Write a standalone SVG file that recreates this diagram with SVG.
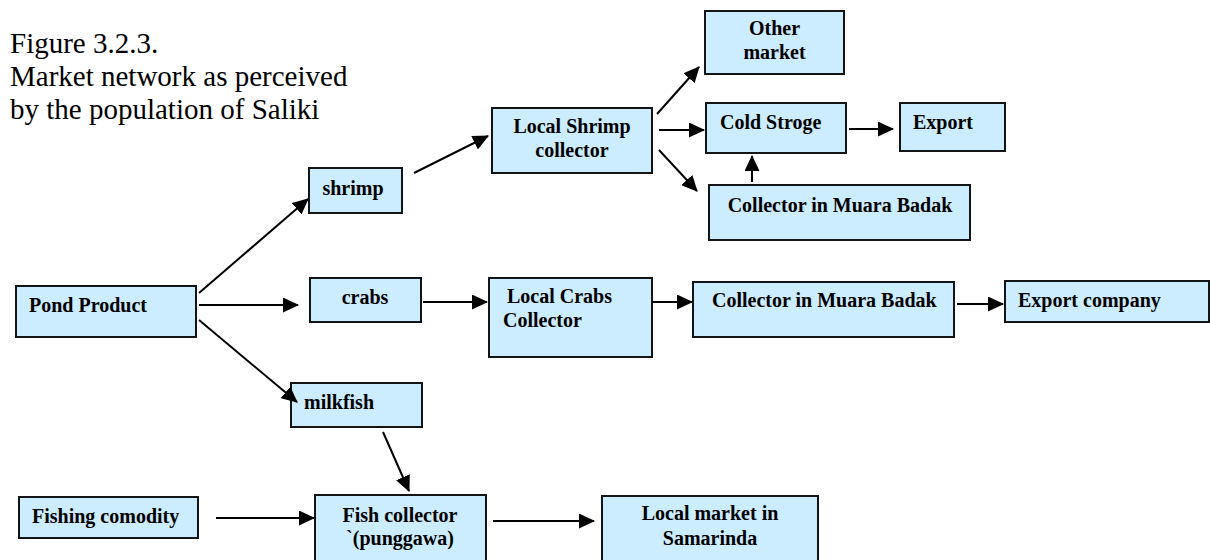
<svg xmlns="http://www.w3.org/2000/svg" width="1210" height="560" viewBox="0 0 1210 560">
  <style>
    .box { fill: #CCECFF; stroke: #141414; stroke-width: 2; }
    .lbl { font-family: "Liberation Serif", "Times New Roman", serif; font-size: 20px; font-weight: bold; fill: #000; }
    .mid { text-anchor: middle; }
    .title { font-family: "Liberation Serif", "Times New Roman", serif; font-size: 29px; fill: #000; }
    .edge { stroke: #000; stroke-width: 2; fill: none; marker-end: url(#arrow); }
  </style>
  <defs>
    <marker id="arrow" markerUnits="userSpaceOnUse" markerWidth="16" markerHeight="15" refX="15" refY="7.5" orient="auto">
      <path d="M0,0 L16,7.5 L0,15 Z" fill="#000"/>
    </marker>
  </defs>
  <rect width="1210" height="560" fill="#fff"/>

  <!-- caption -->
  <g id="caption" class="title">
    <text x="10" y="53">Figure 3.2.3.</text>
    <text x="10" y="86">Market network as perceived</text>
    <text x="10" y="119">by the population of Saliki</text>
  </g>

  <!-- nodes -->
  <g id="pond-product">
    <rect class="box" x="16" y="286" width="180" height="51"/>
    <text class="lbl" x="29" y="312">Pond Product</text>
  </g>
  <g id="shrimp">
    <rect class="box" x="309" y="168" width="93" height="45"/>
    <text class="lbl mid" x="353" y="195">shrimp</text>
  </g>
  <g id="crabs">
    <rect class="box" x="310" y="278" width="111" height="44"/>
    <text class="lbl mid" x="365" y="304">crabs</text>
  </g>
  <g id="milkfish">
    <rect class="box" x="291" y="383" width="131" height="44"/>
    <text class="lbl" x="304" y="409">milkfish</text>
  </g>
  <g id="local-shrimp-collector">
    <rect class="box" x="492" y="108" width="160" height="65"/>
    <text class="lbl mid" x="572" y="133">Local Shrimp</text>
    <text class="lbl mid" x="572" y="157">collector</text>
  </g>
  <g id="other-market">
    <rect class="box" x="705" y="11" width="139" height="63"/>
    <text class="lbl mid" x="774.5" y="35">Other</text>
    <text class="lbl mid" x="774.5" y="59">market</text>
  </g>
  <g id="cold-storage">
    <rect class="box" x="706" y="103" width="140" height="50"/>
    <text class="lbl" x="720" y="129">Cold Stroge</text>
  </g>
  <g id="export">
    <rect class="box" x="900" y="103" width="105" height="48"/>
    <text class="lbl" x="913" y="129">Export</text>
  </g>
  <g id="collector-muara-badak-shrimp">
    <rect class="box" x="709" y="185" width="261" height="55"/>
    <text class="lbl mid" x="840" y="212">Collector in Muara Badak</text>
  </g>
  <g id="local-crabs-collector">
    <rect class="box" x="489" y="278" width="163" height="79"/>
    <text class="lbl" x="507" y="303">Local Crabs</text>
    <text class="lbl" x="503" y="327">Collector</text>
  </g>
  <g id="collector-muara-badak-crabs">
    <rect class="box" x="693" y="282" width="261" height="55"/>
    <text class="lbl" x="712" y="307">Collector in Muara Badak</text>
  </g>
  <g id="export-company">
    <rect class="box" x="1005" y="281" width="204" height="41"/>
    <text class="lbl" x="1018" y="307">Export company</text>
  </g>
  <g id="fishing-comodity">
    <rect class="box" x="19" y="497" width="179" height="41"/>
    <text class="lbl" x="32" y="523">Fishing comodity</text>
  </g>
  <g id="fish-collector">
    <rect class="box" x="315" y="495" width="171" height="80"/>
    <text class="lbl mid" x="400" y="522">Fish collector</text>
    <text class="lbl mid" x="400" y="545">`(punggawa)</text>
  </g>
  <g id="local-market-samarinda">
    <rect class="box" x="602" y="496" width="216" height="80"/>
    <text class="lbl mid" x="710" y="520">Local market in</text>
    <text class="lbl mid" x="710" y="545">Samarinda</text>
  </g>

  <!-- connectors -->
  <g id="connectors">
    <line class="edge" x1="199" y1="293" x2="308" y2="199"/>
    <line class="edge" x1="199" y1="305" x2="298" y2="305"/>
    <line class="edge" x1="199" y1="320" x2="297" y2="402"/>
    <line class="edge" x1="414" y1="173" x2="488" y2="136"/>
    <line class="edge" x1="423" y1="302" x2="487" y2="302"/>
    <line class="edge" x1="652" y1="302" x2="692" y2="302"/>
    <line class="edge" x1="957" y1="304" x2="1003" y2="304"/>
    <line class="edge" x1="657" y1="114" x2="699" y2="67"/>
    <line class="edge" x1="659" y1="130" x2="704" y2="130"/>
    <line class="edge" x1="659" y1="150" x2="697" y2="191"/>
    <line class="edge" x1="849" y1="129" x2="893" y2="129"/>
    <line class="edge" x1="752" y1="182" x2="752" y2="156"/>
    <line class="edge" x1="383" y1="432" x2="409" y2="491"/>
    <line class="edge" x1="216" y1="518" x2="314" y2="518"/>
    <line class="edge" x1="493" y1="521" x2="594" y2="521"/>
  </g>
</svg>
